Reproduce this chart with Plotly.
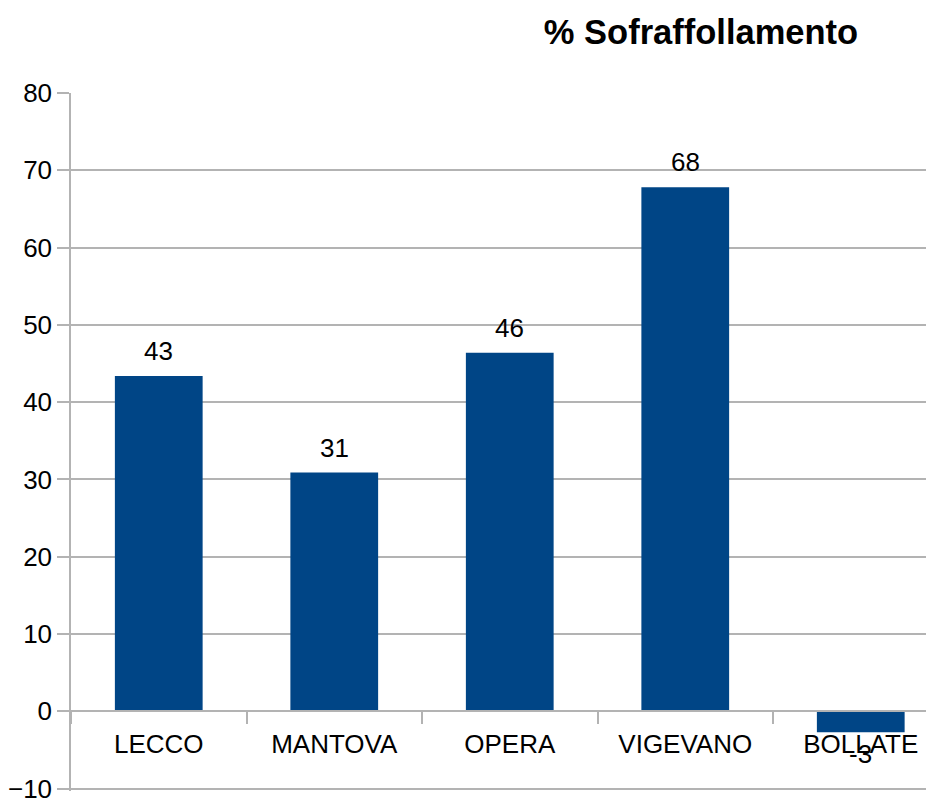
import plotly.graph_objects as go

# === DATI ===
carceri = ['LECCO', 'MANTOVA', 'OPERA', 'VIGEVANO', 'BOLLATE']
sovraffollamento = [43.4, 30.9, 46.4, 67.8, -2.7]
y_ticks = [-10, 0, 10, 20, 30, 40, 50, 60, 70, 80]

BLU = '#004586'
GRIGIO = '#b3b3b3'
FONT = 'Liberation Sans, Arial, sans-serif'

W, H = 934, 801
# la pagina ha 8px di margine sul body: compenso
L, R, T, B = 63, 0, 85, 18

fig = go.Figure()
fig.add_trace(go.Bar(x=carceri, y=sovraffollamento, marker_color=BLU,
                     marker_line_width=0, width=0.5, showlegend=False))

# etichette dati
for c, v in zip(carceri, sovraffollamento):
    fig.add_annotation(x=c, y=v, text=f'{v:.0f}', showarrow=False,
                       yanchor='bottom' if v >= 0 else 'top',
                       yshift=8 if v >= 0 else -5,
                       font=dict(size=26, color='black', family=FONT))

y_min, y_max = -10.3, 80
x_max = -0.5 + (W - L - R) / 175.5
fig.update_layout(
    width=W, height=H,
    margin=dict(l=L, r=R, t=T, b=B, autoexpand=False),
    plot_bgcolor='white', paper_bgcolor='white',
    font=dict(family=FONT, size=26, color='black'),
    title=dict(text='<b>% Sofraffollamento</b>', x=693 / W, xanchor='center',
               y=1 - 24 / H, yanchor='middle', xref='container', yref='container',
               font=dict(size=34.5, family=FONT, color='black')),
    xaxis=dict(range=[-0.5, x_max], anchor='free', automargin=False,
               position=(0 - y_min) / (y_max - y_min),
               showline=True, linecolor=GRIGIO, linewidth=1.5,
               ticks='outside', tickson='boundaries', ticklen=12,
               tickcolor=GRIGIO, tickwidth=1.5, showgrid=False,
               ticklabelstandoff=10,
               tickfont=dict(size=26, color='black')),
    yaxis=dict(range=[y_min, y_max], tickvals=y_ticks, automargin=False,
               showline=True, linecolor=GRIGIO, linewidth=1.5,
               ticks='outside', ticklen=12, tickcolor=GRIGIO, tickwidth=1.5,
               showgrid=True, gridcolor=GRIGIO, gridwidth=1.5,
               ticklabeloverflow='allow',
               zeroline=False, tickfont=dict(size=26, color='black')),
)

fig.write_html('out.html')
